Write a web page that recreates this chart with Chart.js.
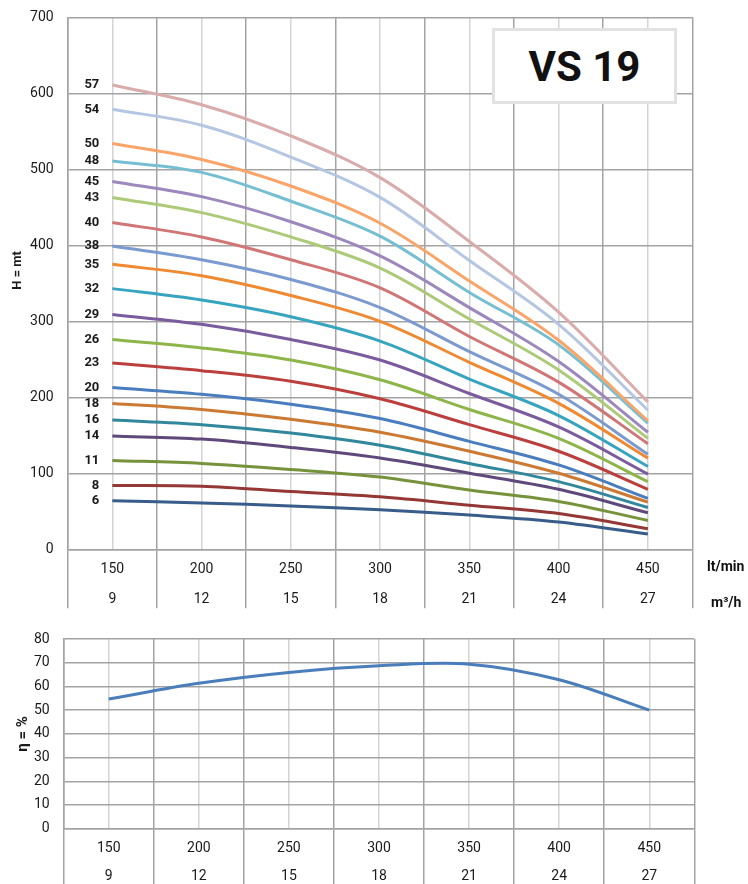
<!DOCTYPE html>
<html><head><meta charset="utf-8">
<script src="https://cdn.jsdelivr.net/npm/chart.js@4.4.1/dist/chart.umd.min.js"></script>
<style>
html,body{margin:0;padding:0;background:#fff;}
body{width:748px;height:884px;position:relative;overflow:hidden;font-family:Roboto,sans-serif;}
#c1{position:absolute;left:0;top:0;}
#c2{position:absolute;left:0;top:628px;}
.box{position:absolute;left:492px;top:28px;width:185px;height:76px;box-sizing:border-box;border:3px solid #e2e2e2;background:#fff;display:flex;align-items:center;justify-content:center;font:bold 42px Roboto,sans-serif;color:#111;}
.unit{position:absolute;font:bold 14px Roboto,sans-serif;color:#111;line-height:16px;white-space:nowrap;}
</style></head>
<body>
<canvas id="c1" width="748" height="612"></canvas>
<canvas id="c2" width="748" height="256"></canvas>
<div class="box">VS 19</div>
<div class="unit" style="left:707px;top:558px;">lt/min</div>
<div class="unit" style="left:711px;top:594px;">m³/h</div>
<script>
// ---- data ----
const flowLpm = [150, 200, 250, 300, 350, 400, 450];
const flowM3h = [9, 12, 15, 18, 21, 24, 27];
const stages = [57, 54, 50, 48, 45, 43, 40, 38, 35, 32, 29, 26, 23, 20, 18, 16, 14, 11, 8, 6];
const h57 = [611, 585, 544, 489, 405, 312, 194];
const h54 = [579, 558, 516, 463, 380, 296, 183];
const h50 = [534, 513, 478, 429, 353, 275, 169];
const h48 = [511, 496, 458, 412, 338, 269, 166];
const h45 = [484, 464, 431, 386, 318, 247, 154];
const h43 = [463, 443, 411, 370, 303, 236, 146];
const h40 = [430, 411, 381, 344, 280, 220, 139];
const h38 = [399, 381, 355, 318, 260, 204, 125];
const h35 = [375, 360, 334, 300, 246, 192, 120];
const h32 = [343, 328, 306, 274, 224, 176, 109];
const h29 = [309, 296, 276, 249, 205, 161, 99];
const h26 = [276, 265, 249, 223, 184, 146, 89];
const h23 = [245, 235, 221, 198, 164, 129, 79];
const h20 = [213, 204, 191, 172, 142, 111, 67];
const h18 = [192, 184, 171, 154, 129, 100, 62];
const h16 = [170, 164, 153, 137, 113, 89, 55];
const h14 = [149, 145, 134, 120, 100, 79, 48];
const h11 = [117, 113, 105, 95, 78, 63, 38];
const h8  = [84, 83, 76, 69, 58, 47, 27];
const h6  = [64, 61, 57, 52, 45, 36, 20];
const efficiency = [54.7, 61.3, 65.9, 68.7, 69.4, 62.8, 50.0];
const headTicks = [0, 100, 200, 300, 400, 500, 600, 700];
const effTicks = [0, 10, 20, 30, 40, 50, 60, 70, 80];

const headSeries = [h57, h54, h50, h48, h45, h43, h40, h38, h35, h32, h29, h26, h23, h20, h18, h16, h14, h11, h8, h6];
const colors = ['#d9acab', '#b4c6e2', '#f9a56a', '#76bfd3', '#9c88bd', '#acca78', '#d17676', '#7b9bd0',
  '#ef8a33', '#38a5c0', '#7a5c9e', '#8db54a', '#bb403d', '#4a7dbe', '#cc7a33', '#31879b',
  '#5f497a', '#76933c', '#953735', '#385d8a'];

// ---- styles ----
const DARK = '#a3a3a3', LIGHT = '#d4d4d4', TXT = '#1a1a1a', NONE = 'rgba(0,0,0,0)';
const isBoundary = v => (Math.round(v - 125) % 50) === 0;
const xTickValues = [];
for (let v = 125; v <= 475; v += 25) xTickValues.push(v);

function xScale(tickLen, pad, lineH, height) {
  return {
    type: 'linear', min: 125, max: 475,
    afterBuildTicks: s => { s.ticks = xTickValues.map(v => ({ value: v })); },
    afterFit: s => { s.height = height; },
    ticks: {
      autoSkip: false, maxRotation: 0, minRotation: 0, padding: pad, color: TXT,
      font: { family: 'Roboto', size: 14, lineHeight: lineH },
      callback: v => { const i = flowLpm.indexOf(v); return i >= 0 ? [String(flowLpm[i]), String(flowM3h[i])] : ''; }
    },
    grid: {
      color: c => isBoundary(c.tick.value) ? DARK : LIGHT,
      lineWidth: 1.5,
      drawTicks: true, tickLength: tickLen, tickWidth: 1.5,
      tickColor: c => isBoundary(c.tick.value) ? DARK : NONE
    },
    border: { color: DARK, width: 1.5 }
  };
}
function yScale(max, ticksArr, width, title, titleSize, titlePad) {
  return {
    type: 'linear', min: 0, max: max,
    afterBuildTicks: s => { s.ticks = ticksArr.map(v => ({ value: v })); },
    afterFit: s => { s.width = width; },
    ticks: { padding: 0, color: TXT, font: { family: 'Roboto', size: 14 } },
    grid: { color: DARK, lineWidth: 1.5, drawTicks: true, tickLength: 14, tickColor: NONE },
    border: { color: DARK, width: 1.5 },
    title: { display: true, text: title, color: TXT, padding: { top: titlePad, bottom: 0 },
      font: { family: 'Roboto', size: titleSize, weight: 'bold' } }
  };
}

const stageLabels = {
  id: 'stageLabels',
  afterDatasetsDraw(chart) {
    const ctx = chart.ctx;
    ctx.save();
    ctx.font = 'bold 13px "Liberation Sans Narrow", Roboto, sans-serif';
    ctx.textAlign = 'right'; ctx.textBaseline = 'middle'; ctx.fillStyle = TXT;
    chart.data.datasets.forEach((ds, i) => {
      const p = chart.getDatasetMeta(i).data[0];
      if (p) ctx.fillText(ds.label, p.x - 13, p.y);
    });
    ctx.restore();
  }
};

new Chart(document.getElementById('c1'), {
  type: 'line',
  data: {
    datasets: stages.map((s, i) => ({
      label: String(s),
      data: flowLpm.map((x, j) => ({ x: x, y: headSeries[i][j] })),
      borderColor: colors[i], borderWidth: 3, pointRadius: 0, tension: 0.35, fill: false
    }))
  },
  options: {
    responsive: false, animation: false, devicePixelRatio: 1,
    layout: { padding: { left: 0, top: 17.3, right: 55.5, bottom: 3.7 } },
    plugins: { legend: { display: false }, tooltip: { enabled: false } },
    scales: {
      x: xScale(59, -54, '30px', 59),
      y: yScale(700, headTicks, 67.7, '        H = mt', 13, 10)
    }
  },
  plugins: [stageLabels]
});

new Chart(document.getElementById('c2'), {
  type: 'line',
  data: {
    datasets: [{
      label: 'η',
      data: flowLpm.map((x, j) => ({ x: x, y: efficiency[j] })),
      borderColor: '#4a7ebb', borderWidth: 3, pointRadius: 0, tension: 0.35, fill: false
    }]
  },
  options: {
    responsive: false, animation: false, devicePixelRatio: 1,
    layout: { padding: { left: 0, top: 11, right: 53.7, bottom: 0 } },
    plugins: { legend: { display: false }, tooltip: { enabled: false } },
    scales: {
      x: xScale(56, -50.6, '28.5px', 55.3),
      y: yScale(80, effTicks, 63.7, 'η = %', 15, 14.5)
    }
  }
});
</script>
</body></html>
